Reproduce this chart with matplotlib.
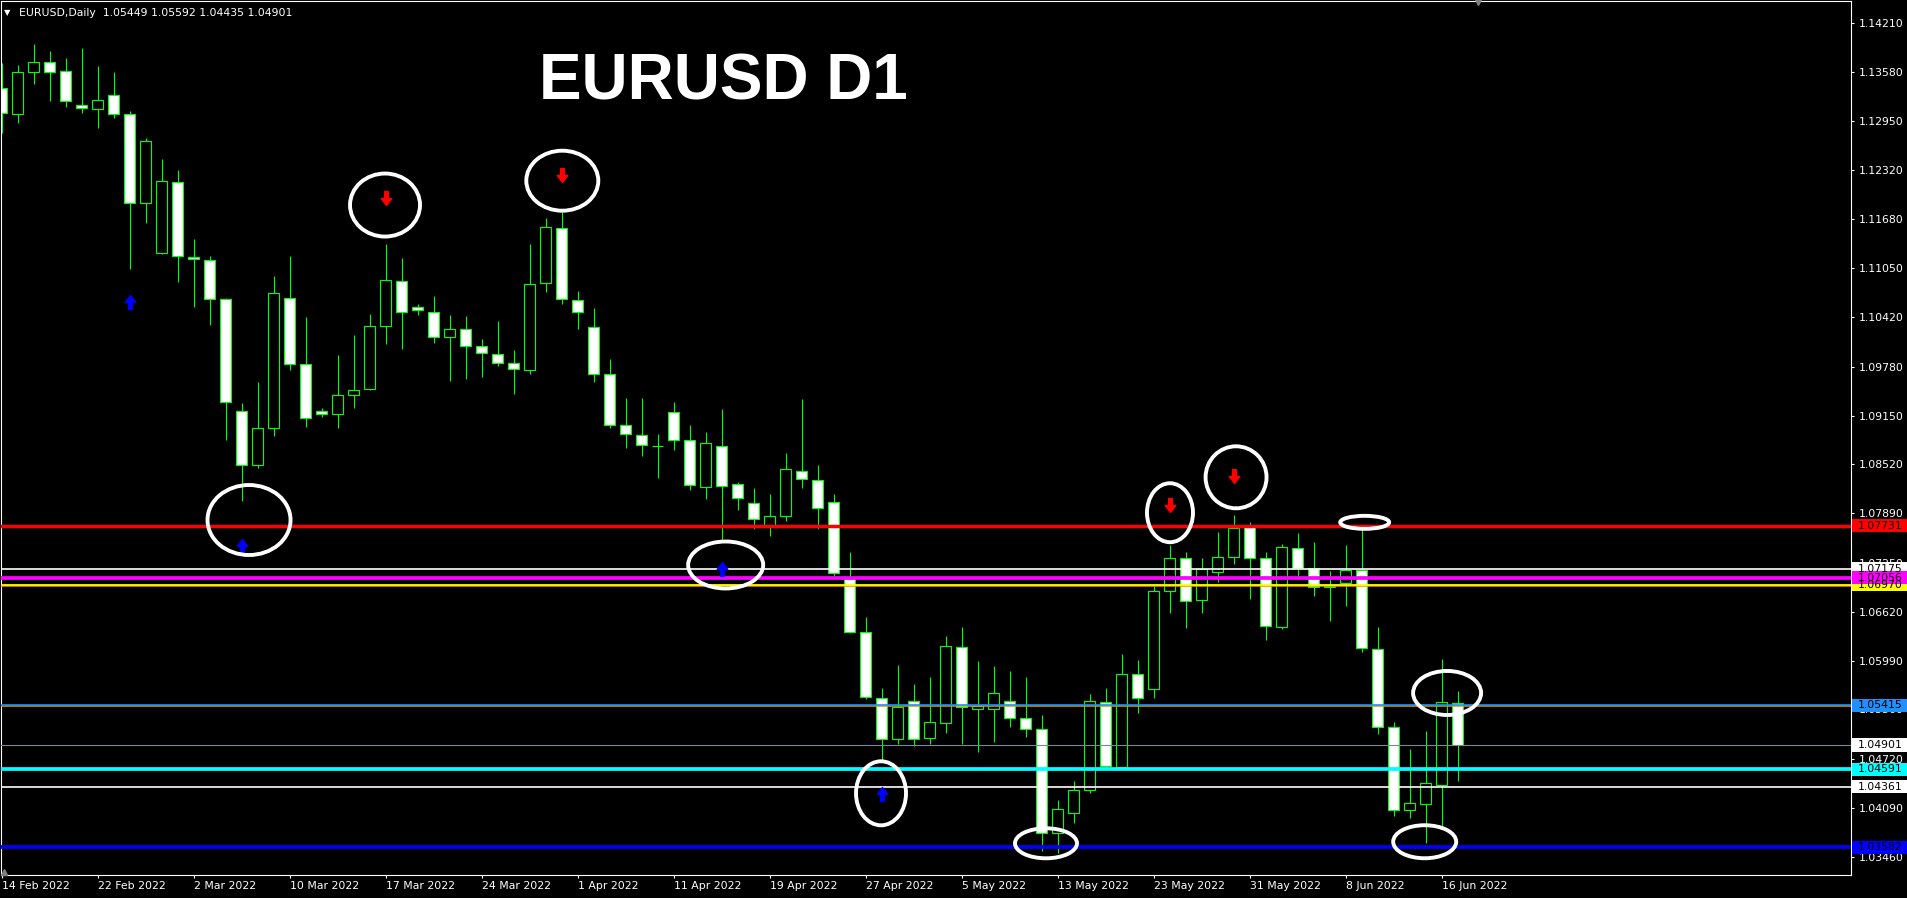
import matplotlib
matplotlib.use("Agg")
import matplotlib.pyplot as plt
from matplotlib import transforms
from matplotlib.patches import Ellipse, Rectangle
from matplotlib.path import Path

# EURUSD daily bars (14 Feb 2022 .. 17 Jun 2022)
opens = [1.13372, 1.13036, 1.13578, 1.13707, 1.13591, 1.13152, 1.13101, 1.13281, 1.13036, 1.11888,
         1.11243, 1.12159, 1.11192, 1.11153, 1.10650, 1.09205, 1.08509, 1.08986, 1.10663, 1.09811,
         1.09205, 1.09167, 1.09412, 1.09489, 1.10302, 1.10890, 1.10554, 1.10490, 1.10167, 1.10271,
         1.10051, 1.09948, 1.09824, 1.09734, 1.10856, 1.11566, 1.10645, 1.10296, 1.09682, 1.09032,
         1.08896, 1.08752, 1.09192, 1.08831, 1.08233, 1.08754, 1.08271, 1.08026, 1.07740, 1.07859,
         1.08439, 1.08323, 1.08039, 1.07042, 1.06362, 1.05511, 1.04974, 1.05472, 1.04987, 1.05181,
         1.06161, 1.05365, 1.05361, 1.05472, 1.05245, 1.05103, 1.03762, 1.04020, 1.04316, 1.05452,
         1.04621, 1.05813, 1.05619, 1.06883, 1.07309, 1.06767, 1.07128, 1.07330, 1.07730, 1.07309,
         1.06427, 1.07438, 1.07184, 1.06945, 1.06990, 1.07154, 1.06135, 1.05129, 1.04059, 1.04136,
         1.04385, 1.05449]
highs = [1.13694, 1.13672, 1.13943, 1.13853, 1.13762, 1.13891, 1.13659, 1.13582, 1.13079, 1.12727,
         1.12456, 1.12314, 1.11424, 1.11205, 1.10667, 1.09308, 1.09587, 1.10947, 1.11205, 1.10418,
         1.09244, 1.09931, 1.10189, 1.10456, 1.11359, 1.11179, 1.10589, 1.10692, 1.10443, 1.10431,
         1.10134, 1.10366, 1.09992, 1.11359, 1.11695, 1.11780, 1.10753, 1.10534, 1.09876, 1.09373,
         1.09373, 1.08909, 1.09321, 1.09025, 1.08934, 1.09231, 1.08297, 1.08212, 1.08135, 1.08663,
         1.09360, 1.08509, 1.08135, 1.07386, 1.06552, 1.05632, 1.05933, 1.05688, 1.05778, 1.06307,
         1.06423, 1.05984, 1.05920, 1.05855, 1.05778, 1.05288, 1.04191, 1.04436, 1.05559, 1.05632,
         1.06071, 1.05997, 1.06956, 1.07484, 1.07386, 1.07309, 1.07644, 1.07868, 1.07781, 1.07390,
         1.07493, 1.07635, 1.07519, 1.07145, 1.07481, 1.07696, 1.06423, 1.05197, 1.04849, 1.05081,
         1.06010, 1.05592]
lows = [1.12791, 1.12928, 1.13427, 1.13212, 1.13126, 1.13049, 1.12863, 1.12992, 1.11045, 1.11638,
        1.11240, 1.10877, 1.10554, 1.10322, 1.08839, 1.08052, 1.08470, 1.08890, 1.09742, 1.09007,
        1.09136, 1.08994, 1.09252, 1.09480, 1.10069, 1.10013, 1.10447, 1.10090, 1.09600, 1.09626,
        1.09651, 1.09793, 1.09432, 1.09682, 1.10748, 1.10593, 1.10271, 1.09587, 1.08994, 1.08736,
        1.08632, 1.08349, 1.08710, 1.08194, 1.08078, 1.07558, 1.07936, 1.07691, 1.07601, 1.07794,
        1.08220, 1.07691, 1.07081, 1.06349, 1.05494, 1.04707, 1.04910, 1.04892, 1.04910, 1.05059,
        1.04910, 1.04814, 1.04943, 1.05133, 1.05008, 1.03537, 1.03512, 1.03891, 1.04278, 1.04604,
        1.04604, 1.05317, 1.05503, 1.06600, 1.06414, 1.06607, 1.06999, 1.07239, 1.06780, 1.06255,
        1.06397, 1.07038, 1.06827, 1.06504, 1.06698, 1.06104, 1.05047, 1.03989, 1.03963, 1.03633,
        1.03826, 1.04435]
closes = [1.13049, 1.13578, 1.13707, 1.13578, 1.13204, 1.13114, 1.13217, 1.13036, 1.11888, 1.12688,
          1.12172, 1.11205, 1.11166, 1.10650, 1.09321, 1.08509, 1.08986, 1.10727, 1.09811, 1.09115,
          1.09167, 1.09412, 1.09476, 1.10302, 1.10895, 1.10490, 1.10508, 1.10167, 1.10271, 1.10051,
          1.09953, 1.09824, 1.09747, 1.10843, 1.11579, 1.10650, 1.10482, 1.09682, 1.09032, 1.08909,
          1.08767, 1.08757, 1.08831, 1.08258, 1.08792, 1.08245, 1.08091, 1.07812, 1.07859, 1.08457,
          1.08328, 1.07958, 1.07116, 1.06362, 1.05516, 1.04974, 1.05395, 1.04974, 1.05194, 1.06174,
          1.05387, 1.05404, 1.05568, 1.05245, 1.05103, 1.03762, 1.04071, 1.04316, 1.05464, 1.04630,
          1.05813, 1.05503, 1.06883, 1.07309, 1.06754, 1.07167, 1.07322, 1.07704, 1.07309, 1.06440,
          1.07451, 1.07184, 1.06943, 1.06956, 1.07154, 1.06148, 1.05129, 1.04059, 1.04149, 1.04407,
          1.05452, 1.04901]

date_labels = ['14 Feb 2022', '22 Feb 2022', '2 Mar 2022', '10 Mar 2022', '17 Mar 2022',
               '24 Mar 2022', '1 Apr 2022', '11 Apr 2022', '19 Apr 2022', '27 Apr 2022',
               '5 May 2022', '13 May 2022', '23 May 2022', '31 May 2022', '8 Jun 2022', '16 Jun 2022']
date_bars = [0, 6, 12, 18, 24, 30, 36, 42, 48, 54, 60, 66, 72, 78, 84, 90]

price_ticks = [1.14210, 1.13580, 1.12950, 1.12320, 1.11680, 1.11050, 1.10420, 1.09780, 1.09150,
               1.08520, 1.07890, 1.07250, 1.06620, 1.05990, 1.05360, 1.04720, 1.04090, 1.03460]

# horizontal levels (tag drawn in this order on the price scale)
level_prices = [1.07731, 1.07175, 1.06970, 1.07056, 1.05415, 1.04901, 1.04591, 1.04361, 1.03582]
level_line_colors = ['#ff0000', '#ffffff', '#ffff00', '#ff00ff', '#1e90ff', '#778899', '#00ffff', '#ffffff', '#0000ff']
level_tag_colors = ['#ff0000', '#ffffff', '#ffff00', '#ff00ff', '#1e90ff', '#ffffff', '#00ffff', '#ffffff', '#0000ff']
level_widths = [2.5, 1.2, 1.3, 2.7, 1.2, 0.8, 2.7, 1.2, 2.7]

# untagged orange lines sitting right under two of the levels
extra_prices = [1.06955, 1.05400]

# signal arrows
buy_bars = [8, 15, 45, 55]
buy_prices = [1.10615, 1.07468, 1.07165, 1.04269]
sell_bars = [24, 35, 73, 77]
sell_prices = [1.11960, 1.12257, 1.07999, 1.08375]

# hand drawn white ellipses
circle_bars = [15.47, 23.97, 35.05, 45.26, 54.97, 65.28, 73.03, 77.16, 85.2, 90.35, 88.95]
circle_prices = [1.07803, 1.11866, 1.12180, 1.07223, 1.04278, 1.03633, 1.07897, 1.08354, 1.07773, 1.05572, 1.03653]
circle_w = [5.19, 4.375, 4.5, 4.69, 3.125, 3.875, 2.875, 3.81, 3.06, 4.25, 3.94]
circle_h = [0.00903, 0.00813, 0.00774, 0.00606, 0.00826, 0.00387, 0.00761, 0.0080, 0.00168, 0.00568, 0.00426]

W, H = 1907, 898
fig = plt.figure(figsize=(W / 100, H / 100), dpi=100, facecolor='black')
ax = fig.add_axes([0.5 / W, 23 / H, 1850 / W, 874 / H])
ax.set_facecolor('black')

green = '#00ff00'
x = list(range(len(opens)))
body_lo = [min(o, c) for o, c in zip(opens, closes)]
body_h = [abs(c - o) for o, c in zip(opens, closes)]
fills = ['black' if c > o else 'white' for o, c in zip(opens, closes)]

ax.vlines(x, lows, highs, color=green, lw=0.8, zorder=1)
ax.bar(x, body_h, bottom=body_lo, width=0.64, color=fills, edgecolor=green, linewidth=0.8, zorder=2)

# horizontal lines
for p in extra_prices:
    ax.axhline(p, color='#ff8c00', lw=1.1, zorder=3)
for p, c, lw in zip(level_prices, level_line_colors, level_widths):
    ax.axhline(p, color=c, lw=lw, zorder=3.5)

# arrows as custom markers
up = Path([(-0.13, -0.5), (0.13, -0.5), (0.13, 0.0), (0.38, 0.0), (0.0, 0.5), (-0.38, 0.0), (-0.13, 0.0), (-0.13, -0.5)],
          [Path.MOVETO] + [Path.LINETO] * 6 + [Path.CLOSEPOLY])
down = Path([(vx, -vy) for vx, vy in up.vertices], up.codes)
ax.plot(buy_bars, buy_prices, ls='none', marker=up, ms=10, color='#0000ff', mec='#0000ff', zorder=4)
ax.plot(sell_bars, sell_prices, ls='none', marker=down, ms=10, color='#ff0000', mec='#ff0000', zorder=4)

for cx, cy, w, h in zip(circle_bars, circle_prices, circle_w, circle_h):
    ax.add_patch(Ellipse((cx, cy), w, h, fill=False, edgecolor='white', lw=2.8, zorder=6))

ax.set_xlim(-0.0625, 115.5625)
ax.set_ylim(1.03224, 1.14498)

# axes styling
for s in ax.spines.values():
    s.set_color('white')
    s.set_linewidth(0.8)
ax.yaxis.tick_right()
ax.set_yticks(price_ticks)
ax.set_yticklabels(['%.5f' % t for t in price_ticks])
ax.set_xticks(date_bars)
ax.set_xticklabels(date_labels)
for lab in ax.get_xticklabels():
    lab.set_ha('left')
ax.tick_params(axis='y', colors='white', length=2.5, width=0.8, pad=3.2, labelsize=7.8)
ax.tick_params(axis='x', colors='white', length=2.5, width=0.8, pad=2.0, labelsize=7.8)

# price tags on the right scale
trans = transforms.blended_transform_factory(fig.transFigure, ax.transData)
tag_h = 0.00168
for p, c in zip(level_prices, level_tag_colors):
    ax.add_patch(Rectangle((1852 / W, p - tag_h / 2), 1 - 1852 / W, tag_h, transform=trans,
                           facecolor=c, edgecolor='none', clip_on=False, zorder=7))
    ax.text(1857.5 / W, p, '%.5f' % p, transform=trans, color='black', fontsize=7.8,
            va='center', ha='left', clip_on=False, zorder=8)

# chart shift / scale markers
ax.plot([0.7986], [1.0], marker='v', ms=6, color='#808080', transform=ax.transAxes, clip_on=False, zorder=9)
ax.plot([0.002], [0.004], marker='^', ms=5, color='#808080', transform=ax.transAxes, clip_on=False, zorder=9)

# header and title
fig.text(4 / W, 1 - 15.5 / H, '\u25bc', color='white', fontsize=6, va='baseline')
fig.text(19 / W, 1 - 16 / H,
         'EURUSD,Daily  %.5f %.5f %.5f %.5f' % (opens[-1], highs[-1], lows[-1], closes[-1]),
         color='white', fontsize=7.8, va='baseline')
fig.text(539 / W, 1 - 99.7 / H, 'EURUSD D1', color='white', fontsize=46, fontweight='bold',
         family='Liberation Sans', va='baseline')

fig.savefig('out.png', dpi=100, facecolor='black')
